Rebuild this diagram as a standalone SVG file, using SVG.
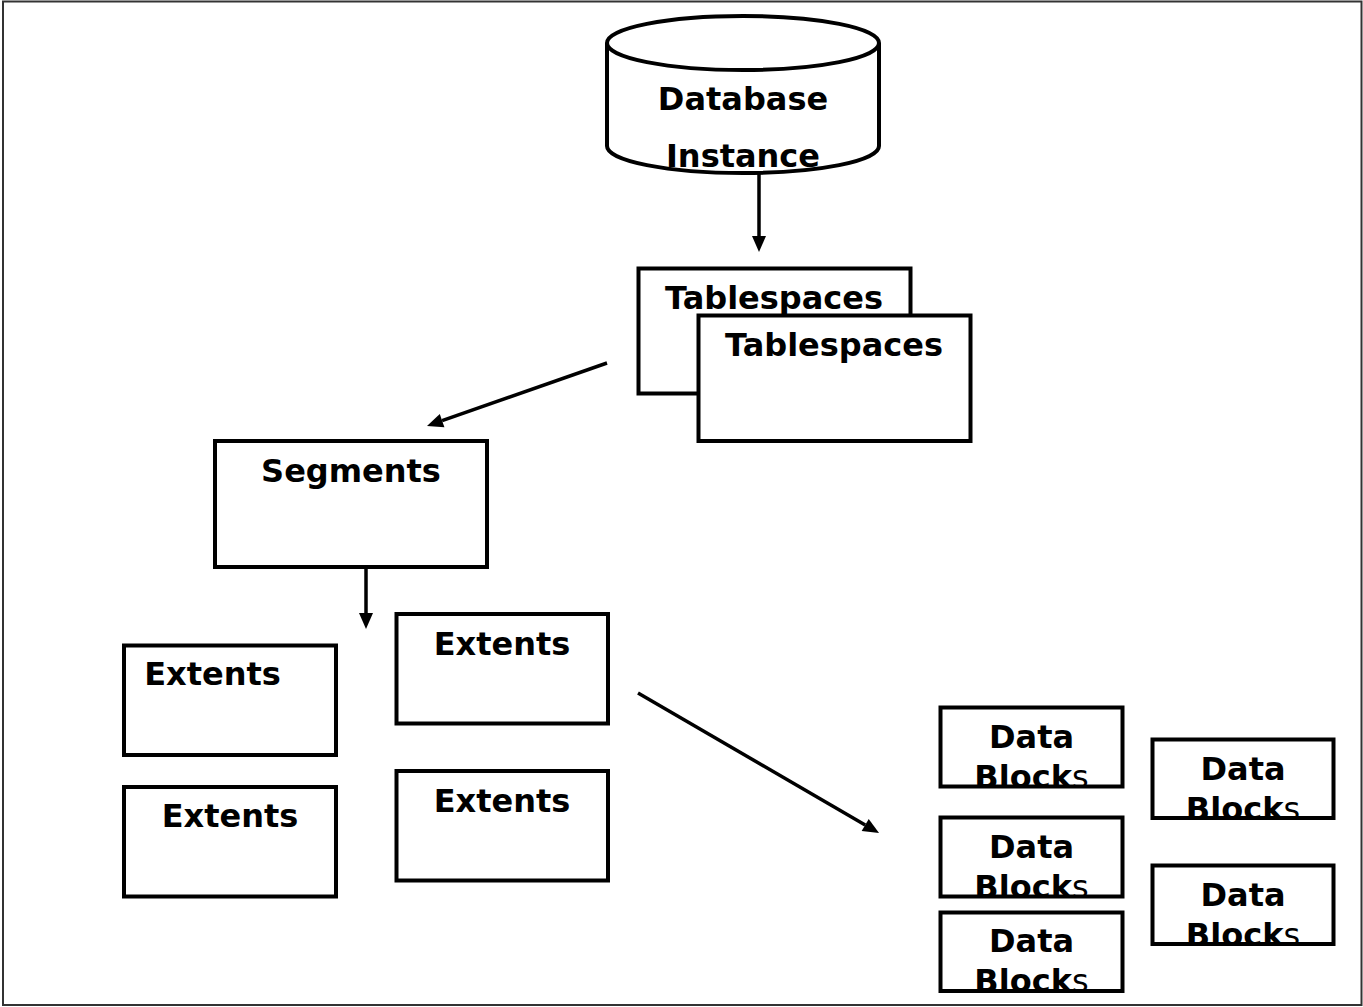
<svg xmlns="http://www.w3.org/2000/svg" width="1363" height="1007" viewBox="0 0 1363 1007">
  <defs>
    <style>
      .box { fill: #ffffff; stroke: #000000; stroke-width: 4; }
      .edge { fill: none; stroke: #000000; stroke-width: 4; }
      .lbl { font-family: "DejaVu Sans", "Liberation Sans", sans-serif; font-size: 32px; font-weight: bold; fill: #000000; text-anchor: middle; }
      .thin { font-weight: normal; }
      .link { fill: none; stroke: #000000; stroke-width: 3.5; marker-end: url(#head); }
    </style>
    <marker id="head" markerUnits="userSpaceOnUse" viewBox="0 -7 16 14" refX="0" refY="0" markerWidth="16" markerHeight="14" orient="auto" overflow="visible">
      <path d="M0,-7 L16,0 L0,7 Z" fill="#000000"/>
    </marker>
    <!-- the second label line runs past the box edge and is cut off there -->
    <clipPath id="clip-db1"><rect x="938" y="705" width="187" height="83"/></clipPath>
    <clipPath id="clip-db2"><rect x="1150" y="737" width="186" height="82"/></clipPath>
    <clipPath id="clip-db3"><rect x="938" y="815" width="187" height="83"/></clipPath>
    <clipPath id="clip-db4"><rect x="1150" y="863" width="186" height="82"/></clipPath>
    <clipPath id="clip-db5"><rect x="938" y="910" width="187" height="82"/></clipPath>
  </defs>

  <rect x="0" y="0" width="1363" height="1007" fill="#ffffff"/>
  <rect x="3" y="1.5" width="1358.5" height="1003.5" fill="none" stroke="#333333" stroke-width="2"/>

  <g id="database-instance">
    <path class="box" d="M607,43 L607,146 A136,27 0 0 0 879,146 L879,43"/>
    <ellipse class="box" cx="743" cy="43" rx="136" ry="27"/>
    <text class="lbl" x="743" y="110">Database</text>
    <text class="lbl" x="743" y="167">Instance</text>
  </g>

  <g id="tablespaces-back">
    <rect class="box" x="638.5" y="268.5" width="272" height="125"/>
    <text class="lbl" x="774" y="309">Tablespaces</text>
  </g>

  <g id="tablespaces-front">
    <rect class="box" x="698.5" y="315.5" width="272" height="125.5"/>
    <text class="lbl" x="834" y="356">Tablespaces</text>
  </g>

  <g id="segments">
    <rect class="box" x="215" y="441" width="272" height="126"/>
    <text class="lbl" x="351" y="482">Segments</text>
  </g>

  <g id="extents-1">
    <rect class="box" x="124" y="645.5" width="212" height="109.5"/>
    <text class="lbl" x="212.5" y="685">Extents</text>
  </g>

  <g id="extents-2">
    <rect class="box" x="396.5" y="614" width="211.5" height="109.5"/>
    <text class="lbl" x="502" y="655">Extents</text>
  </g>

  <g id="extents-3">
    <rect class="box" x="124" y="787" width="212" height="109.5"/>
    <text class="lbl" x="230" y="827">Extents</text>
  </g>

  <g id="extents-4">
    <rect class="box" x="396.5" y="771" width="211.5" height="109.5"/>
    <text class="lbl" x="502" y="812">Extents</text>
  </g>

  <g id="data-blocks-1">
    <g clip-path="url(#clip-db1)">
      <text class="lbl" x="1031.5" y="748">Data</text>
      <text class="lbl" x="1031.5" y="788">Block<tspan class="thin">s</tspan></text>
    </g>
    <rect class="edge" x="940.5" y="707.5" width="182" height="79"/>
  </g>

  <g id="data-blocks-2">
    <g clip-path="url(#clip-db2)">
      <text class="lbl" x="1243" y="780">Data</text>
      <text class="lbl" x="1243" y="820">Block<tspan class="thin">s</tspan></text>
    </g>
    <rect class="edge" x="1152.5" y="739.5" width="181" height="78.5"/>
  </g>

  <g id="data-blocks-3">
    <g clip-path="url(#clip-db3)">
      <text class="lbl" x="1031.5" y="858">Data</text>
      <text class="lbl" x="1031.5" y="898">Block<tspan class="thin">s</tspan></text>
    </g>
    <rect class="edge" x="940.5" y="817.5" width="182" height="79"/>
  </g>

  <g id="data-blocks-4">
    <g clip-path="url(#clip-db4)">
      <text class="lbl" x="1243" y="906">Data</text>
      <text class="lbl" x="1243" y="946">Block<tspan class="thin">s</tspan></text>
    </g>
    <rect class="edge" x="1152.5" y="865.5" width="181" height="78.5"/>
  </g>

  <g id="data-blocks-5">
    <g clip-path="url(#clip-db5)">
      <text class="lbl" x="1031.5" y="952">Data</text>
      <text class="lbl" x="1031.5" y="992">Block<tspan class="thin">s</tspan></text>
    </g>
    <rect class="edge" x="940.5" y="912.5" width="182" height="78.5"/>
  </g>

  <g id="connectors">
    <line class="link" x1="759" y1="173" x2="759" y2="236"/>
    <line class="link" x1="607" y1="363" x2="442.1" y2="420.7"/>
    <line class="link" x1="366" y1="567" x2="366" y2="613"/>
    <line class="link" x1="638" y1="693" x2="865.2" y2="825"/>
  </g>
</svg>
